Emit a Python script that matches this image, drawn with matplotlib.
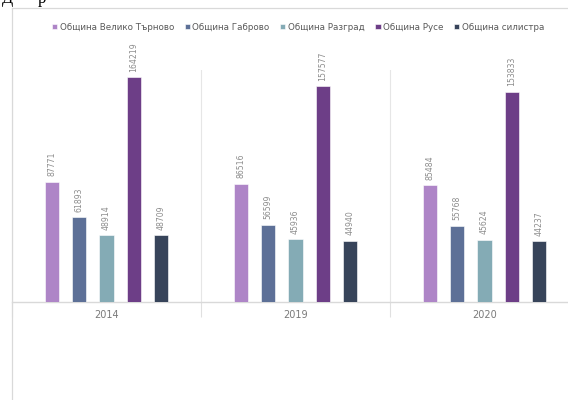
import numpy as np
from matplotlib import pyplot as plt
from matplotlib.lines import Line2D

years = ['2014', '2019', '2020']
municipalities = ['Община Велико Търново', 'Община Габрово', 'Община Разград',
                  'Община Русе', 'Община силистра']
veliko_tarnovo = [87771, 86516, 85484]
gabrovo = [61893, 56599, 55768]
razgrad = [48914, 45936, 45624]
ruse = [164219, 157577, 153833]
silistra = [48709, 44940, 44237]
series = [veliko_tarnovo, gabrovo, razgrad, ruse, silistra]
colors = ['#ae85c7', '#5d7097', '#84abb5', '#6d3e87', '#37445a']

W, H = 568, 400
fig = plt.figure(figsize=(W / 100, H / 100), dpi=100)

# plot area: left edge at x=12px, baseline at y=302px, top at y=70px, runs past right edge
ax = fig.add_axes([12 / W, (H - 302) / H, 567 / W, 232 / H])

x = np.arange(len(years))
pitch = 0.1445
width = 0.077
for i, (vals, col) in enumerate(zip(series, colors)):
    xs = x + (i - 2) * pitch
    ax.bar(xs, vals, width=width, color=col, edgecolor='white', linewidth=0.4,
           label=municipalities[i], zorder=3)
    for xi, v in zip(xs, vals):
        ax.annotate(str(v), (xi, v), xytext=(0, 4), textcoords='offset points',
                    rotation=90, ha='center', va='bottom', fontsize=5.6,
                    color='#8c8c8c', annotation_clip=False)

ax.set_xlim(-0.5, 2.5)
ax.set_ylim(0, 169600)
ax.set_yticks([])
ax.set_xticks(x)
ax.set_xticklabels(years, fontsize=7, color='#7a7a7a')
ax.set_xticks([-0.5, 0.5, 1.5, 2.5], minor=True)
ax.tick_params(axis='x', which='major', length=0, pad=6)
ax.tick_params(axis='x', which='minor', length=11, width=0.8, color='#e0e0e0')
ax.grid(axis='x', which='minor', color='#e6e6e6', linewidth=0.8, zorder=0)
for s in ['top', 'right', 'left']:
    ax.spines[s].set_visible(False)
ax.spines['bottom'].set_color('#d9d9d9')
ax.spines['bottom'].set_linewidth(1.0)

handles, labels = ax.get_legend_handles_labels()
fig.legend(handles, labels, loc='center', bbox_to_anchor=(298 / W, 1 - 27 / H),
           ncol=5, frameon=False, fontsize=6.3, labelcolor='#595959',
           handlelength=0.6, handleheight=0.6, handletextpad=0.3,
           columnspacing=1.2, borderaxespad=0)

# chart frame
fig.add_artist(Line2D([12 / W, 12 / W], [0, 1 - 8 / H], transform=fig.transFigure,
                      color='#d9d9d9', linewidth=0.9))
fig.add_artist(Line2D([12 / W, 1], [1 - 8 / H, 1 - 8 / H], transform=fig.transFigure,
                      color='#d9d9d9', linewidth=0.9))

# cut-off heading text above the chart
fig.text(2 / W, 1 - 3 / H, 'Д', fontsize=12, family='Liberation Serif',
         va='baseline', ha='left', color='black')
fig.text(38 / W, 1 - 3 / H, 'р', fontsize=12, family='Liberation Serif',
         va='baseline', ha='left', color='black')

fig.savefig('out.png', dpi=100)
